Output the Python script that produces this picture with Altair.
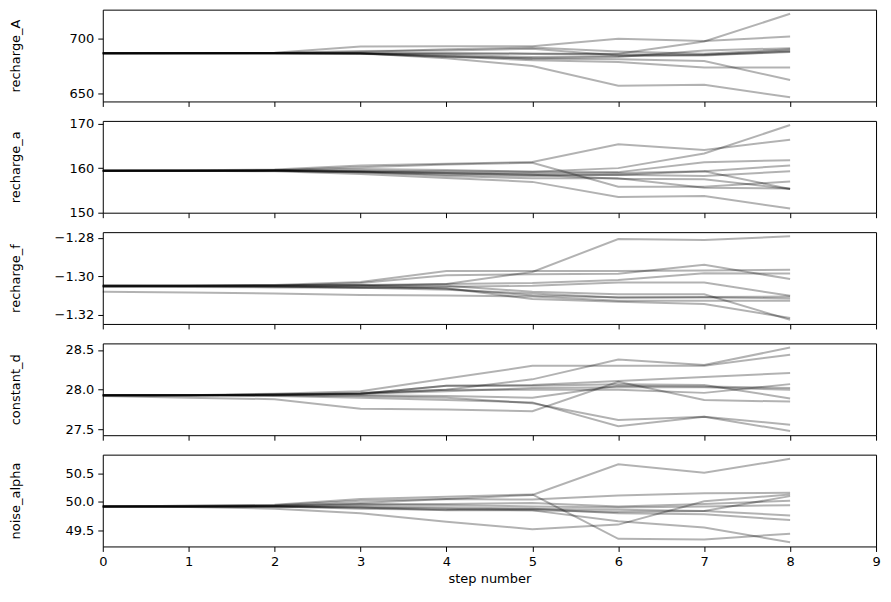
import altair as alt
import pandas as pd

steps = list(range(9))
params = ["recharge_A", "recharge_a", "recharge_f", "constant_d", "noise_alpha"]

recharge_A = [
    [686.5, 686.5, 686.5, 686.5, 686.3, 686.0, 686.0, 697.0, 722.0],
    [686.5, 686.6, 686.8, 692.6, 692.8, 692.8, 699.4, 697.5, 701.5],
    [686.5, 686.5, 686.5, 686.4, 682.0, 675.0, 657.2, 658.0, 646.7],
    [686.5, 686.5, 686.5, 686.3, 684.0, 681.5, 681.0, 679.5, 662.2],
    [686.5, 686.5, 686.5, 686.3, 683.5, 680.0, 678.5, 673.5, 673.5],
    [686.5, 686.6, 686.7, 687.5, 690.0, 691.5, 688.0, 686.0, 690.0],
    [686.5, 686.5, 686.5, 686.2, 685.0, 683.0, 684.0, 684.5, 688.0],
    [686.5, 686.5, 686.6, 688.5, 689.0, 690.5, 684.5, 685.0, 687.5],
    [686.5, 686.5, 686.5, 686.0, 683.0, 682.0, 683.0, 689.0, 691.0],
    [686.5, 686.5, 686.5, 686.5, 686.5, 686.0, 685.5, 685.0, 689.0],
]
recharge_a = [
    [159.4, 159.4, 159.5, 159.4, 159.3, 159.2, 160.0, 163.3, 169.7],
    [159.4, 159.5, 159.7, 160.6, 161.0, 161.4, 165.4, 164.1, 166.4],
    [159.4, 159.4, 159.3, 158.7, 157.8, 156.9, 153.5, 153.7, 150.9],
    [159.4, 159.4, 159.5, 160.2, 160.8, 161.2, 155.8, 155.8, 157.0],
    [159.4, 159.4, 159.4, 159.2, 158.8, 158.5, 158.5, 159.3, 155.3],
    [159.4, 159.4, 159.5, 159.8, 159.6, 159.2, 159.1, 161.3, 161.8],
    [159.4, 159.4, 159.4, 159.0, 158.5, 158.2, 158.5, 158.2, 159.3],
    [159.4, 159.4, 159.4, 159.1, 158.2, 157.7, 157.7, 155.6, 155.4],
    [159.4, 159.4, 159.5, 159.3, 159.0, 158.8, 158.9, 159.3, 160.6],
    [159.4, 159.4, 159.4, 159.2, 158.9, 158.5, 157.6, 157.5, 155.3],
]
recharge_f = [
    [-1.3050, -1.3051, -1.3053, -1.3052, -1.3040, -1.2978, -1.2807, -1.2812, -1.2793],
    [-1.3052, -1.3050, -1.3045, -1.3030, -1.2973, -1.2973, -1.2973, -1.2970, -1.2966],
    [-1.3048, -1.3048, -1.3047, -1.3045, -1.3050, -1.3080, -1.3094, -1.3094, -1.3226],
    [-1.3050, -1.3050, -1.3049, -1.3035, -1.2995, -1.2990, -1.2987, -1.2940, -1.3015],
    [-1.3055, -1.3056, -1.3058, -1.3060, -1.3062, -1.3118, -1.3132, -1.3144, -1.3217],
    [-1.3053, -1.3053, -1.3055, -1.3058, -1.3055, -1.3050, -1.3033, -1.3033, -1.3101],
    [-1.3080, -1.3085, -1.3090, -1.3097, -1.3100, -1.3105, -1.3127, -1.3127, -1.3127],
    [-1.3050, -1.3050, -1.3050, -1.3048, -1.3065, -1.3100, -1.3110, -1.3110, -1.3115],
    [-1.3050, -1.3049, -1.3048, -1.3045, -1.3040, -1.3035, -1.3020, -1.2985, -1.2986],
    [-1.3052, -1.3052, -1.3052, -1.3060, -1.3070, -1.3090, -1.3110, -1.3108, -1.3105],
]
constant_d = [
    [27.93, 27.93, 27.94, 27.95, 28.00, 28.13, 28.38, 28.31, 28.53],
    [27.93, 27.93, 27.95, 27.98, 28.14, 28.30, 28.30, 28.30, 28.44],
    [27.93, 27.93, 27.92, 27.90, 27.87, 27.84, 27.54, 27.66, 27.48],
    [27.93, 27.93, 27.93, 27.92, 27.90, 27.83, 27.62, 27.66, 27.56],
    [27.93, 27.93, 27.93, 27.95, 28.05, 28.06, 28.11, 28.16, 28.21],
    [27.92, 27.90, 27.88, 27.76, 27.75, 27.73, 28.10, 27.87, 27.85],
    [27.93, 27.93, 27.94, 27.95, 28.05, 28.05, 28.07, 28.06, 27.89],
    [27.93, 27.93, 27.94, 27.96, 28.00, 28.00, 28.00, 27.96, 28.07],
    [27.93, 27.93, 27.93, 27.93, 27.92, 27.90, 28.05, 28.04, 28.02],
    [27.93, 27.93, 27.94, 27.95, 27.98, 28.02, 28.03, 28.03, 28.00],
]
noise_alpha = [
    [49.92, 49.92, 49.93, 49.98, 50.05, 50.12, 50.66, 50.51, 50.755],
    [49.92, 49.93, 49.95, 50.05, 50.09, 50.13, 49.35, 49.34, 49.44],
    [49.92, 49.92, 49.92, 49.90, 49.88, 49.85, 49.66, 49.55, 49.29],
    [49.92, 49.91, 49.88, 49.80, 49.65, 49.52, 49.60, 50.01, 50.13],
    [49.92, 49.93, 49.94, 50.02, 50.05, 50.04, 50.11, 50.15, 50.16],
    [49.92, 49.92, 49.92, 49.90, 49.85, 49.85, 49.82, 49.84, 50.10],
    [49.92, 49.92, 49.92, 49.88, 49.86, 49.88, 49.86, 49.84, 49.76],
    [49.92, 49.92, 49.92, 49.92, 49.90, 49.88, 49.80, 49.78, 49.68],
    [49.92, 49.92, 49.93, 49.96, 49.96, 49.98, 49.92, 49.96, 50.02],
    [49.92, 49.92, 49.92, 49.95, 49.94, 49.92, 49.90, 49.92, 49.94],
]

series = [recharge_A, recharge_a, recharge_f, constant_d, noise_alpha]
yticks = [
    [650, 700],
    [150, 160, 170],
    [-1.32, -1.30, -1.28],
    [27.5, 28.0, 28.5],
    [49.5, 50.0, 50.5],
]
yformats = ["d", "d", ".2f", ".1f", ".1f"]
xticks = list(range(10))

FONT = "DejaVu Sans"
panels = []
for i, (name, walkers) in enumerate(zip(params, series)):
    rows = []
    for w, vals in enumerate(walkers):
        for s, v in zip(steps, vals):
            rows.append({"step": s, "walker": w, "value": v})
    df = pd.DataFrame(rows)
    lo, hi = df["value"].min(), df["value"].max()
    m = 0.05 * (hi - lo)
    last = i == len(params) - 1
    if last:
        xaxis = alt.Axis(
            values=xticks, format="d", title="step number",
            labelFlush=False, grid=False, domain=False, tickColor="black", tickSize=5,
            labelFontSize=13, labelColor="black", labelFont=FONT, labelPadding=4,
            titleFontSize=13, titleFontWeight="normal", titleColor="black", titleFont=FONT,
            titlePadding=4,
        )
    else:
        xaxis = alt.Axis(
            values=xticks, labels=False, title=None, grid=False, domain=False,
            tickColor="black", tickSize=5,
        )
    yaxis = alt.Axis(
        values=yticks[i], format=yformats[i], title=name, grid=False, domain=False,
        tickColor="black", tickSize=5, labelFontSize=13, labelColor="black",
        labelFont=FONT, labelPadding=4, titleFontSize=13, titleFontWeight="normal",
        titleColor="black", titleFont=FONT, titleX=-87, titleY=46,
        titleAlign="center", titleBaseline="middle", titleAngle=270,
    )
    ch = alt.Chart(df).mark_line(color="black", opacity=0.3, strokeWidth=2).encode(
        x=alt.X("step:Q", scale=alt.Scale(domain=[0, 9], nice=False, zero=False), axis=xaxis),
        y=alt.Y("value:Q", scale=alt.Scale(domain=[lo - m, hi + m], nice=False, zero=False), axis=yaxis),
        detail="walker:N",
    ).properties(width=775, height=92)
    panels.append(ch)

chart = alt.vconcat(*panels, spacing=19.5, bounds="flush").resolve_scale(y="independent").properties(
    padding={"left": 9, "top": 8, "right": 10, "bottom": 10}
).configure(background="white").configure_view(stroke="black", strokeWidth=1)

chart.save("out.html", embed_options={"renderer": "svg", "actions": False})
